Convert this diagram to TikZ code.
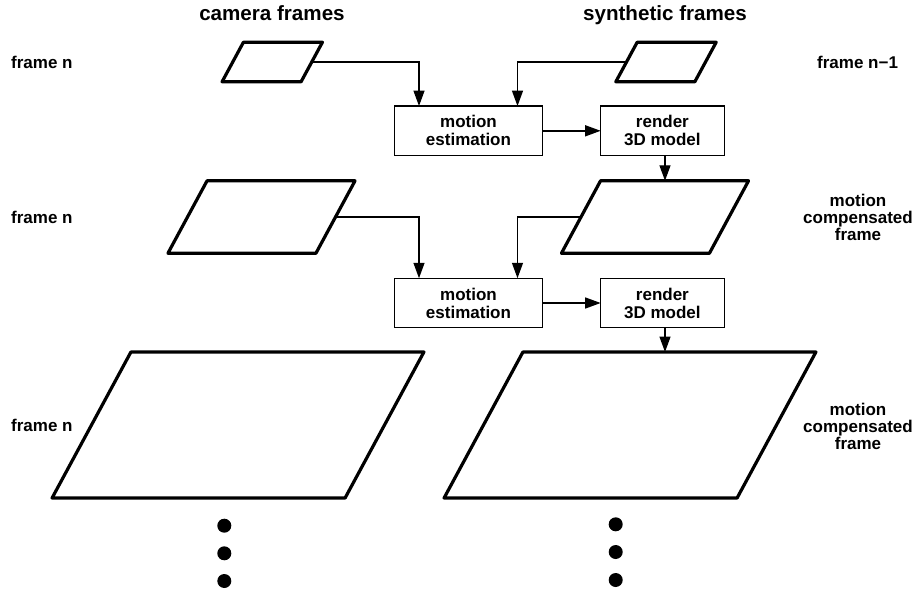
\documentclass[tikz,border=0pt]{standalone}
\usepackage{fontspec}
\setmainfont{Liberation Sans}
\usetikzlibrary{arrows.meta}
\tikzset{
  x=1pt,y=-1pt,
  frameshape/.style={draw,line width=3.2pt,line join=round,xslant=0.54,inner sep=0pt,outer sep=0pt},
  small/.style={frameshape,minimum width=79pt,minimum height=39.5pt},
  medium/.style={frameshape,minimum width=148pt,minimum height=72.5pt},
  large/.style={frameshape,minimum width=293pt,minimum height=146pt},
  procbox/.style={draw,line width=1.3pt,inner sep=0pt,outer sep=0pt,align=center,font=\fontsize{17}{18}\selectfont\bfseries},
  mebox/.style={procbox,minimum width=147.5pt,minimum height=49.5pt},
  rbox/.style={procbox,minimum width=123.5pt,minimum height=49.5pt},
  conn/.style={line width=1.4pt,-{Triangle[length=15.5pt,width=11pt]}},
  lab/.style={font=\fontsize{17}{17}\selectfont\bfseries,inner sep=0pt,align=center},
  head/.style={font=\fontsize{20.6}{24}\selectfont\bfseries,inner sep=0pt,anchor=base},
  dotmark/.style={circle,fill=black,minimum size=14pt,inner sep=0pt}
}
\begin{document}
\begin{tikzpicture}
\useasboundingbox (0,0) rectangle (916,590);
\node[head] (h1) at (272,20) {camera frames};
\node[head] (h2) at (665,20) {synthetic frames};
\node[lab,anchor=west] (l1) at (11,62) {frame n};
\node[lab,anchor=west] (l2) at (817,62) {frame n−1};
\node[lab,anchor=west] (l3) at (11,217) {frame n};
\node[lab] (l4) at (858,217) {motion\\compensated\\frame};
\node[lab,anchor=west] (l5) at (11,425) {frame n};
\node[lab] (l6) at (858,426) {motion\\compensated\\frame};

\node[small] (p1) at (272.25,62) {};
\node[small] (p2) at (666,62) {};
\node[medium] (p3) at (261.5,217) {};
\node[medium] (p4) at (655,217) {};
\node[large] (p5) at (238,425) {};
\node[large] (p6) at (630,425) {};

\node[mebox] (m1) at (468.5,130.8) {motion\\estimation};
\node[rbox] (r1) at (662.4,130.8) {render\\3D model};
\node[mebox] (m2) at (468.5,303) {motion\\estimation};
\node[rbox] (r2) at (662.4,303) {render\\3D model};

\coordinate (a1) at (419,0);
\coordinate (b1) at (517.5,0);
\coordinate (d1) at (665,0);

\draw[conn] (p1.east) -| (a1 |- m1.north);
\draw[conn] (p2.west) -| (b1 |- m1.north);
\draw[conn] (m1.east) -- (r1.west);
\draw[conn] (d1 |- r1.south) -- (d1 |- p4.north);
\draw[conn] (p3.east) -| (a1 |- m2.north);
\draw[conn] (p4.west) -| (b1 |- m2.north);
\draw[conn] (m2.east) -- (r2.west);
\draw[conn] (d1 |- r2.south) -- (d1 |- p6.north);

\node[dotmark] (d11) at (224.3,525.7) {};
\node[dotmark] (d12) at (224.3,553.3) {};
\node[dotmark] (d13) at (224.3,581) {};
\node[dotmark] (d21) at (615.7,524.3) {};
\node[dotmark] (d22) at (615.7,552) {};
\node[dotmark] (d23) at (615.7,580) {};
\end{tikzpicture}
\end{document}
